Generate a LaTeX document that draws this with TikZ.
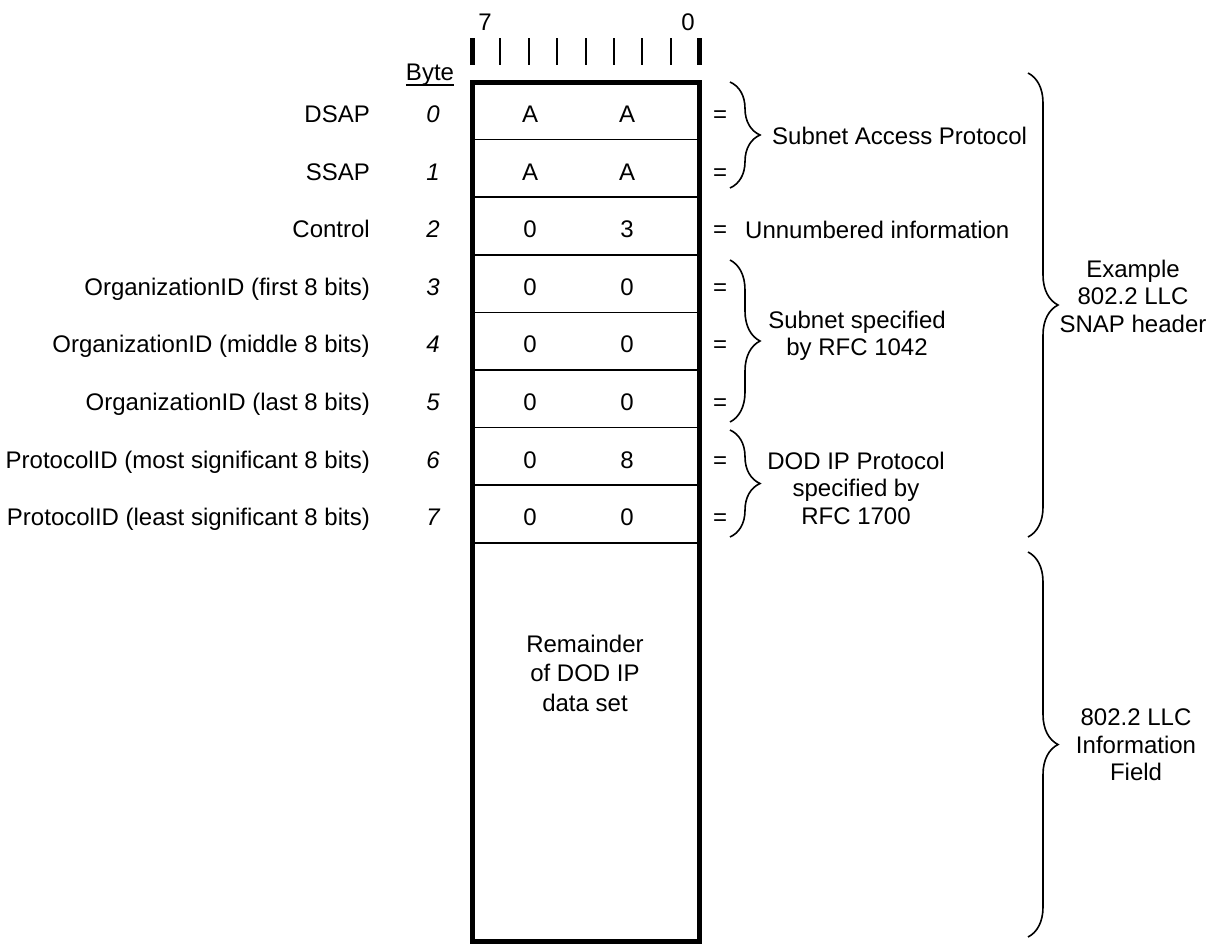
\documentclass[tikz,border=0pt]{standalone}
\usepackage{fontspec}
\setmainfont{Liberation Sans}
\usetikzlibrary{decorations.pathreplacing}

\begin{document}
\begin{tikzpicture}[
x=1pt,y=-1pt,
every node/.style={font=\fontsize{24}{27.5}\selectfont,inner sep=0pt},
field/.style={anchor=base east},
bytenum/.style={anchor=base,font=\fontsize{24}{27.5}\selectfont\itshape},
val/.style={anchor=base},
note/.style={align=center},
frame/.style={line width=5pt},
sep/.style={line width=1.5pt},
tick/.style={line width=2pt},
brc/.style={decorate,decoration={brace,amplitude=30pt},line width=1.6pt}
]
\useasboundingbox (0,0) rectangle (1214,948);

% Bit numbering
\node (msb) at (485,22) {7};
\node (lsb) at (688,22) {0};
\foreach \i in {1,...,7}
  \draw[tick] (472+\i*28.375,38) -- (472+\i*28.375,65);
\draw[frame] (472,38) -- (472,65);
\draw[frame] (699,38) -- (699,65);

\node[anchor=base] (byte) at (430,80) {Byte};
\draw[sep] (byte.south west) -- (byte.south east);

% Header bytes
\foreach \n/\hi/\lo/\name in {0/A/A/DSAP,1/A/A/SSAP,2/0/3/Control,
    3/0/0/OrganizationID (first 8 bits),4/0/0/OrganizationID (middle 8 bits),
    5/0/0/OrganizationID (last 8 bits),6/0/8/ProtocolID (most significant 8 bits),
    7/0/0/ProtocolID (least significant 8 bits)}{
  \pgfmathsetmacro{\yb}{111+\n*57.6+11.5}
  \node[field] (f\n) at (370,\yb) {\name};
  \node[bytenum] (n\n) at (433,\yb) {\n};
  \node[val] (h\n) at (530,\yb) {\hi};
  \node[val] (l\n) at (627,\yb) {\lo};
  \node[val] (eq\n) at (720,\yb) {=};
}

\foreach \k in {1,...,8}
  \draw[sep] (472,82+\k*57.6) -- (699,82+\k*57.6);
\draw[frame] (472,82) rectangle (699,941);

\node[note,font=\fontsize{24}{29.5}\selectfont] (rest) at (585,673)
  {Remainder\\of DOD IP\\data set};

% Meanings
\node[anchor=base west] (unnum) at (745,238.1) {Unnumbered information};

\coordinate (sap top) at (730,82);
\coordinate (sap bot) at (730,188);
\draw[brc] (sap top) -- (sap bot);
\node[anchor=west] (sap) at (772,136) {Subnet Access Protocol};

\coordinate (org top) at (730,260);
\coordinate (org bot) at (730,422);
\draw[brc] (org top) -- (org bot);
\node[note] (org) at (857,336) {Subnet specified\\by RFC 1042};

\coordinate (pid top) at (730,430);
\coordinate (pid bot) at (730,537);
\draw[brc] (pid top) -- (pid bot);
\node[note] (pid) at (856,488) {DOD IP Protocol\\specified by\\RFC 1700};

\coordinate (hdr top) at (1028,73);
\coordinate (hdr bot) at (1028,537);
\draw[brc] (hdr top) -- (hdr bot);
\node[note] (hdr) at (1133,296) {Example\\802.2 LLC\\SNAP header};

\coordinate (info top) at (1028,552);
\coordinate (info bot) at (1028,937);
\draw[brc] (info top) -- (info bot);
\node[note] (info) at (1136,745) {802.2 LLC\\Information\\Field};

\end{tikzpicture}
\end{document}
